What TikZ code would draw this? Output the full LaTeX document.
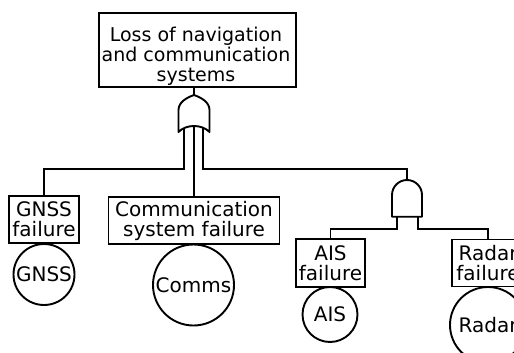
\documentclass[tikz,border=0pt]{standalone}
\usepackage{fontspec}
\setmainfont{DejaVu Sans}
\begin{document}
\begin{tikzpicture}[x=1pt,y=-1pt,
  every node/.style={font=\fontsize{20}{20}\selectfont},
  box/.style={draw, line width=1.9pt, rectangle, inner sep=0pt, align=center},
  ev/.style={draw, circle, line width=1.9pt, inner sep=0pt},
  wire/.style={line width=1.9pt},
  gate/.style={draw, line width=1.9pt, fill=white, line join=round}]
\useasboundingbox (0,0) rectangle (514,353);
\fill[white] (0,0) rectangle (514,353);
% boxes
\node[box, minimum width=197pt, minimum height=74pt] (top) at (197.5,50) {};
\node[inner sep=0pt, align=center, font=\fontsize{19}{20}\selectfont] (toptxt) at (196,56.7) {Loss of navigation\\and communication\\systems};
\node[box, minimum width=70pt, minimum height=47pt] (gf) at (44,219.5) {GNSS\\failure};
\node[box, minimum width=171pt, minimum height=46.5pt] (cf) at (194,220.5) {Communication\\system failure};
\node[box, minimum width=69pt, minimum height=48pt] (af) at (330.5,263) {AIS\\failure};
\node[box, minimum width=72pt, minimum height=47pt] (rf) at (488,263) {Radar\\failure};
% basic events
\node[ev, minimum size=61pt] (g) at (44,274.5) {GNSS};
\node[ev, minimum size=81pt] (c) at (193.5,285) {Comms};
\node[ev, minimum size=55pt] (a) at (330,314.5) {AIS};
\node[ev, minimum size=76pt] (r) at (488,325) {Radar};
% gate ports
\coordinate (orT) at (194,95);
\coordinate (orL) at (184,127);
\coordinate (orC) at (194,125);
\coordinate (orR) at (203,127);
\coordinate (andT) at (407,180);
\coordinate (andL) at (397,214);
\coordinate (andR) at (418,214);
% wires
\draw[wire] (top.south -| orT) -- (orT);
\draw[wire] (orL) -- (orL |- 0,169) -| (gf.north);
\draw[wire] (orC) -- (cf.north);
\draw[wire] (orR) -- (orR |- 0,169) -| (andT);
\draw[wire] (andL) -- (andL |- 0,229) -| (af.north);
\draw[wire] (andR) -- (andR |- 0,229) -| (rf.north);
% gates
\draw[gate] (178.5,132) -- (178.5,110) .. controls (178.5,102) and (187,97.5) .. (194,95)
  .. controls (201,97.5) and (209.5,102) .. (209.5,110) -- (209.5,132)
  .. controls (202,124) and (186,124) .. cycle;
\draw[gate] (392,216.7) -- (392,195) arc[start angle=180, end angle=360, radius=15] -- (422,216.7) -- cycle;
\end{tikzpicture}
\end{document}
